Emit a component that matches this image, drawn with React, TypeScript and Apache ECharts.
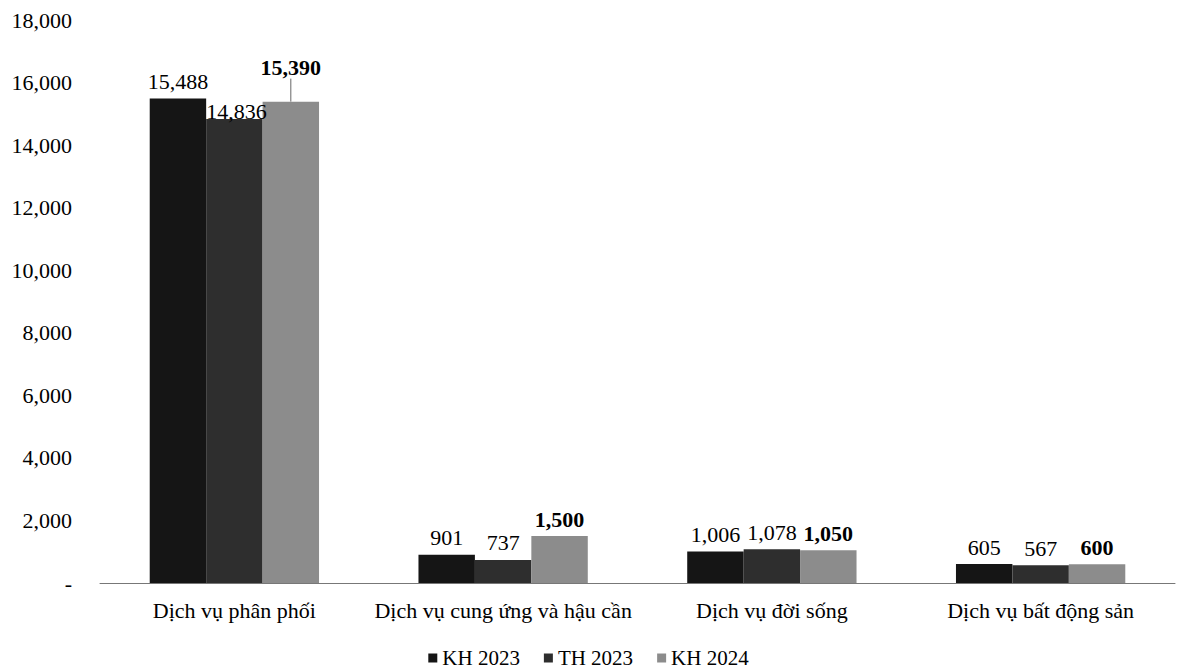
import React, { useEffect, useRef } from "react";
import * as echarts from "echarts";

const categories = [
  "Dịch vụ phân phối",
  "Dịch vụ cung ứng và hậu cần",
  "Dịch vụ đời sống",
  "Dịch vụ bất động sản",
];
const seriesNames = ["KH 2023", "TH 2023", "KH 2024"];
const kh2023 = [15488, 901, 1006, 605];
const th2023 = [14836, 737, 1078, 567];
const kh2024 = [15390, 1500, 1050, 600];
const colors = ["#151515", "#2e2e2e", "#8c8c8c"];

const FONT = "'Liberation Serif', 'Times New Roman', serif";

export default function App() {
  const ref = useRef<HTMLDivElement>(null);
  useEffect(() => {
    document.body.style.margin = "0";
    const chart = echarts.init(ref.current!, undefined, { renderer: "svg" });
    const fmt = (v: number) => v.toLocaleString("en-US");
    const mk = (name: string, data: number[], idx: number) => {
      const s: any = {
        name,
        type: "bar",
        data: data.map((v, i) => {
          const item: any = { value: v };
          if (idx === 1 && i === 0) item.label = { offset: [2, 10] };
          if (idx === 2 && i === 0)
            item.labelLine = { show: true, lineStyle: { color: "#666", width: 1 } };
          return item;
        }),
        barGap: "0%",
        barCategoryGap: "37%",
        itemStyle: { color: colors[idx] },
        label: {
          show: true,
          position: "top",
          distance: 6,
          fontFamily: FONT,
          fontSize: 22,
          color: "#000",
          fontWeight: idx === 2 ? "bold" : "normal",
          formatter: (p: any) => fmt(p.value),
        },
      };
      if (idx === 2) {
        s.labelLayout = (p: any) => (p.dataIndex === 0 ? { dy: -17 } : {});
        s.labelLine = { show: false };
      }
      return s;
    };
    chart.setOption({
      animation: false,
      textStyle: { fontFamily: FONT },
      grid: { left: 100, right: 2, top: 20, bottom: 88, containLabel: false },
      legend: {
        left: "center",
        top: 642,
        itemWidth: 9,
        itemHeight: 9,
        itemGap: 24,
        icon: "rect",
        textStyle: { fontFamily: FONT, fontSize: 21, color: "#000", lineHeight: 22 },
        data: seriesNames,
      },
      xAxis: {
        type: "category",
        data: categories,
        axisLine: { lineStyle: { color: "#777", width: 1 } },
        axisTick: { show: false },
        axisLabel: {
          interval: 0,
          fontFamily: FONT,
          fontSize: 22,
          color: "#000",
          margin: 16,
        },
      },
      yAxis: {
        type: "value",
        min: 0,
        max: 18000,
        interval: 2000,
        splitLine: { show: false },
        axisLine: { show: false },
        axisTick: { show: false },
        axisLabel: {
          fontFamily: FONT,
          fontSize: 22,
          color: "#000",
          margin: 28,
          formatter: (v: number) => (v === 0 ? "-" : fmt(v)),
        },
      },
      series: [
        mk(seriesNames[0], kh2023, 0),
        mk(seriesNames[1], th2023, 1),
        mk(seriesNames[2], kh2024, 2),
      ],
    });
    return () => chart.dispose();
  }, []);
  return <div ref={ref} style={{ width: 1177, height: 671 }} />;
}
